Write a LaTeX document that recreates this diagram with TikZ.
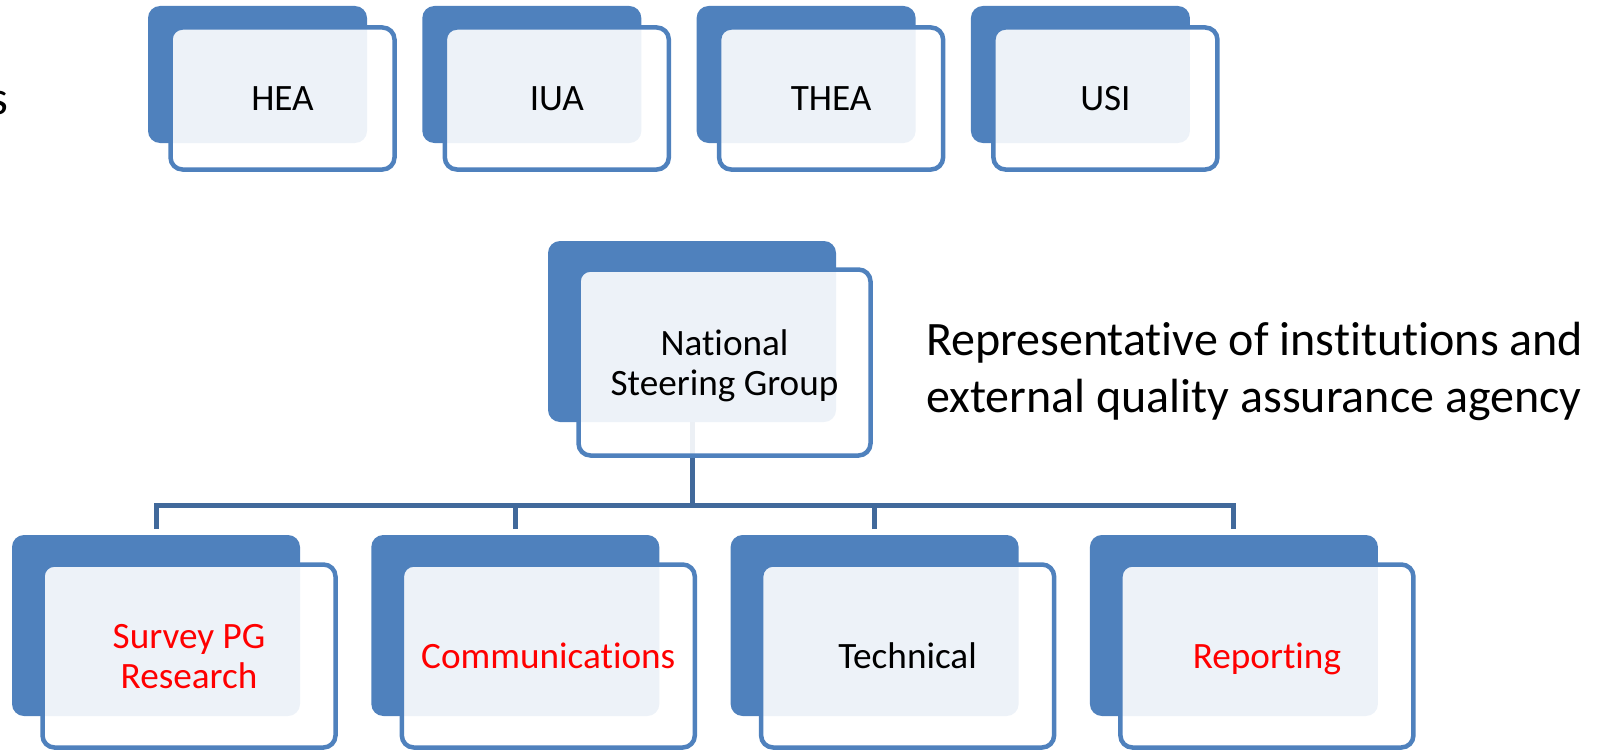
\documentclass[tikz,border=0pt]{standalone}
\usepackage{fontspec}
\setmainfont{Carlito}[Ligatures=NoCommon]
\definecolor{accent}{HTML}{4F81BD}
\definecolor{conn}{HTML}{41699B}
\definecolor{redtxt}{HTML}{FF0000}
\pgfdeclarelayer{bg}
\pgfsetlayers{bg,main}
\tikzset{
  backbox/.style={rectangle, rounded corners=12pt, fill=accent, inner sep=0pt, outer sep=0pt},
  frontbox/.style={rectangle, rounded corners=12pt, draw=accent, line width=4.5pt, fill=white,
    fill opacity=0.9, draw opacity=1, text opacity=1, inner sep=0pt, outer sep=0pt, align=center,
    text depth=0pt, font=\fontsize{37.2}{40}\selectfont},
  topback/.style={backbox, minimum width=219pt, minimum height=137pt},
  topfront/.style={frontbox, minimum width=224pt, minimum height=142pt},
  bigback/.style={backbox, minimum width=288pt, minimum height=181pt},
  bigfront/.style={frontbox, minimum width=293pt, minimum height=183pt},
  nsgfront/.style={frontbox, minimum width=292pt, minimum height=186pt},
  redlabel/.style={text=redtxt},
  note/.style={inner sep=0pt, outer sep=0pt, align=left, font=\fontsize{48}{57}\selectfont},
  link/.style={draw=conn, line width=5pt, line join=miter},
}
\begin{document}
\begin{tikzpicture}[x=1pt, y=-1pt]
\useasboundingbox (0,0) rectangle (1605,752);

% left clipped text
\node[note, anchor=base west] (lefttxt) at (-10,114.5) {s};

% top row
\node[topback] (t1back) at (257.5,74.5) {};
\node[topback] (t2back) at (531.8,74.5) {};
\node[topback] (t3back) at (806.1,74.5) {};
\node[topback] (t4back) at (1080.4,74.5) {};
\node[topfront] (t1) at (282.5,98.5) {HEA};
\node[topfront] (t2) at (556.8,98.5) {IUA};
\node[topfront] (t3) at (831.1,98.5) {THEA};
\node[topfront] (t4) at (1105.4,98.5) {USI};

% national steering group
\node[bigback] (nsgback) at (692,331.5) {};
\node[nsgfront] (nsg) at (724.5,362.5) {National\\Steering Group};

\node[note, anchor=base west] (rep) at (926,412) {Representative of institutions and\\external quality assurance agency};

% bottom row
\node[bigback] (b1back) at (156,625.5) {};
\node[bigback] (b2back) at (515.3,625.5) {};
\node[bigback] (b3back) at (874.6,625.5) {};
\node[bigback] (b4back) at (1233.9,625.5) {};
\node[bigfront, redlabel] (b1) at (189,656) {Survey PG\\Research};
\node[bigfront, redlabel] (b2) at (548.3,656) {Communications};
\node[bigfront] (b3) at (907.6,656) {Technical};
\node[bigfront, redlabel] (b4) at (1266.9,656) {Reporting};

\coordinate (bus) at (0,505);

\begin{pgfonlayer}{bg}
  \draw[link] (nsgback.south) -- (nsgback.south |- bus);
  \draw[link] ([yshift=6pt]b1back.north) -- (b1back.north |- bus) -- (b4back.north |- bus) -- ([yshift=6pt]b4back.north);
  \draw[link] ([yshift=6pt]b2back.north) -- (b2back.north |- bus);
  \draw[link] ([yshift=6pt]b3back.north) -- (b3back.north |- bus);
\end{pgfonlayer}
\end{tikzpicture}
\end{document}
